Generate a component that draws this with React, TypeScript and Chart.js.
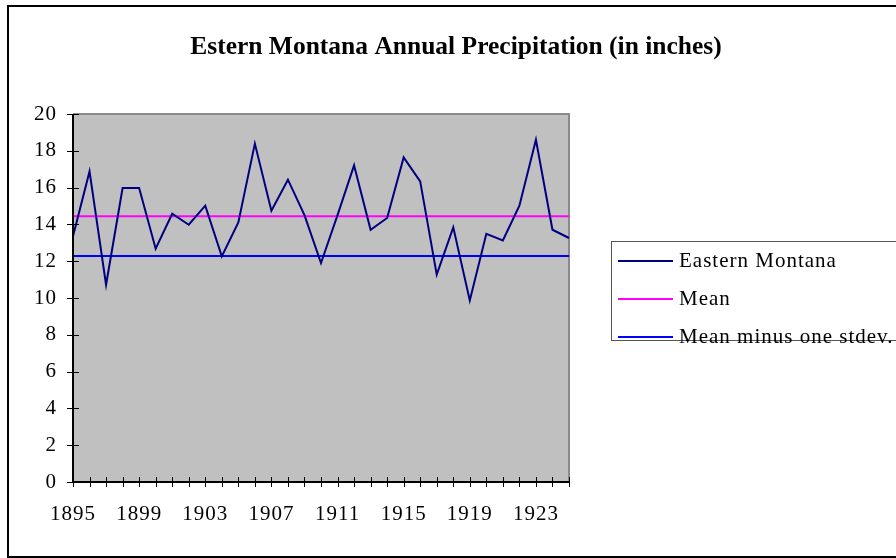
import React, { useEffect, useRef } from "react";
import { Chart, registerables } from "chart.js";

Chart.register(...registerables);

const TITLE = "Estern Montana Annual Precipitation (in inches)";
const YEARS = [
  "1895", "1896", "1897", "1898", "1899", "1900", "1901", "1902", "1903", "1904",
  "1905", "1906", "1907", "1908", "1909", "1910", "1911", "1912", "1913", "1914",
  "1915", "1916", "1917", "1918", "1919", "1920", "1921", "1922", "1923", "1924", "1925",
];
const PRECIP = [
  13.35, 16.88, 10.72, 15.98, 15.98, 12.68, 14.58, 13.98, 15.02, 12.26,
  14.11, 18.39, 14.74, 16.43, 14.5, 11.9, 14.5, 17.21, 13.71, 14.35,
  17.64, 16.34, 11.27, 13.84, 9.87, 13.49, 13.13, 15.02, 18.6, 13.71, 13.26,
];
const MEAN = 14.44;
const MEAN_MINUS_SD = 12.28;
const SERIES_NAMES = ["Eastern Montana", "Mean", "Mean minus one stdev."];
const Y_MIN = 0;
const Y_MAX = 20;
const Y_STEP = 2;
const LABEL_EVERY = 4;

const FONT = '"Liberation Serif", "Times New Roman", serif';

const decor = {
  id: "decor",
  beforeDraw(chart: any) {
    const { ctx, chartArea: a } = chart;
    ctx.save();
    ctx.fillStyle = "#ffffff";
    ctx.fillRect(0, 0, chart.width, chart.height);
    ctx.strokeStyle = "#000000";
    ctx.lineWidth = 2;
    ctx.strokeRect(8, 6, 1000, 551);
    ctx.fillStyle = "#c0c0c0";
    ctx.fillRect(a.left, a.top, a.right - a.left, a.bottom - a.top);
    ctx.strokeStyle = "#8a8a8a";
    ctx.lineWidth = 2;
    ctx.beginPath();
    ctx.moveTo(a.left, a.top);
    ctx.lineTo(a.right, a.top);
    ctx.lineTo(a.right, a.bottom);
    ctx.stroke();
    ctx.restore();
    (ctx as any).letterSpacing = "1px";
  },
  afterDraw(chart: any) {
    const { ctx, chartArea: a } = chart;
    const xs = chart.scales.x;
    const ys = chart.scales.y;
    ctx.save();
    // crossing tick marks
    ctx.strokeStyle = "#000000";
    ctx.lineWidth = 1;
    ctx.beginPath();
    xs.ticks.forEach((_t: any, i: number) => {
      const x = Math.round(xs.getPixelForTick(i)) + 0.5;
      ctx.moveTo(x, a.bottom - 5);
      ctx.lineTo(x, a.bottom + 5);
    });
    ys.ticks.forEach((_t: any, i: number) => {
      const y = Math.round(ys.getPixelForTick(i)) + 0.5;
      ctx.moveTo(a.left - 6, y);
      ctx.lineTo(a.left + 6, y);
    });
    ctx.stroke();
    ctx.beginPath();
    ctx.lineWidth = 2;
    ctx.moveTo(a.left, a.top);
    ctx.lineTo(a.left, a.bottom);
    ctx.lineTo(a.right, a.bottom);
    ctx.stroke();

    // title
    (ctx as any).letterSpacing = "0px";
    ctx.fillStyle = "#000000";
    ctx.font = `bold 25.5px ${FONT}`;
    ctx.textAlign = "center";
    ctx.textBaseline = "middle";
    ctx.fillText(TITLE, 456, 47);

    // legend
    ctx.strokeStyle = "#555555";
    ctx.lineWidth = 1;
    ctx.strokeRect(611.5, 241.5, 400, 99);
    (ctx as any).letterSpacing = "1px";
    ctx.font = `21px ${FONT}`;
    ctx.textAlign = "left";
    const rows = [261, 299, 337];
    chart.data.datasets.forEach((ds: any, i: number) => {
      const y = rows[i];
      ctx.strokeStyle = ds.borderColor;
      ctx.lineWidth = 2;
      ctx.beginPath();
      ctx.moveTo(618, y);
      ctx.lineTo(673, y);
      ctx.stroke();
      ctx.fillStyle = "#000000";
      ctx.fillText(ds.label, 679, y);
    });
    ctx.restore();
  },
};

export default function App() {
  const ref = useRef<HTMLCanvasElement>(null);
  useEffect(() => {
    if (!ref.current) return;
    const chart = new Chart(ref.current, {
      type: "line",
      data: {
        labels: YEARS,
        datasets: [
          {
            label: SERIES_NAMES[0],
            data: PRECIP,
            borderColor: "#000080",
            borderWidth: 2,
            pointRadius: 0,
            tension: 0,
          },
          {
            label: SERIES_NAMES[1],
            data: YEARS.map(() => MEAN),
            borderColor: "#ff00ff",
            borderWidth: 2,
            pointRadius: 0,
          },
          {
            label: SERIES_NAMES[2],
            data: YEARS.map(() => MEAN_MINUS_SD),
            borderColor: "#0000ff",
            borderWidth: 2,
            pointRadius: 0,
          },
        ],
      },
      options: {
        responsive: false,
        animation: false,
        devicePixelRatio: 1,
        layout: { padding: { top: 114, right: 327, left: 0, bottom: 0 } },
        plugins: {
          legend: { display: false },
          title: { display: false },
          tooltip: { enabled: false },
        },
        scales: {
          x: {
            type: "category",
            offset: false,
            grid: { display: false },
            border: { display: false },
            afterFit: (s: any) => {
              s.height = 76;
            },
            ticks: {
              autoSkip: false,
              maxRotation: 0,
              padding: 12,
              color: "#000000",
              font: { family: FONT, size: 21 },
              callback: (_v: any, i: number) => (i % LABEL_EVERY === 0 ? YEARS[i] : ""),
            },
          },
          y: {
            min: Y_MIN,
            max: Y_MAX,
            grid: { display: false, drawTicks: false },
            border: { display: false },
            afterFit: (s: any) => {
              s.width = 73;
            },
            ticks: {
              stepSize: Y_STEP,
              padding: 16,
              color: "#000000",
              font: { family: FONT, size: 21 },
            },
          },
        },
      },
      plugins: [decor],
    });
    return () => chart.destroy();
  }, []);
  return (
    <div style={{ position: "fixed", left: 0, top: 0, width: 896, height: 558 }}>
      <canvas ref={ref} width={896} height={558} style={{ display: "block" }} />
    </div>
  );
}
